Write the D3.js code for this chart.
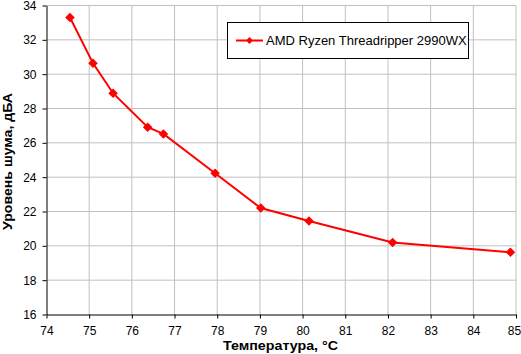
<html>
<head>
<script src="https://d3js.org/d3.v7.min.js"></script>
<style>
  body { margin: 0; background: #fff; }
  text { font-family: "Liberation Sans", Arial, sans-serif; }
</style>
</head>
<body>
<div id="chart"></div>
<script>
var temps = [74.55, 75.09, 75.56, 76.37, 76.74, 77.95, 79.02, 80.15, 82.11, 84.87];
var noise = [33.3, 30.63, 28.89, 26.91, 26.52, 24.23, 22.2, 21.45, 20.19, 19.63];
var xTicks = [74, 75, 76, 77, 78, 79, 80, 81, 82, 83, 84, 85];
var yTicks = [16, 18, 20, 22, 24, 26, 28, 30, 32, 34];
var seriesName = "AMD Ryzen Threadripper 2990WX";

var width = 521, height = 354;
var margin = {top: 5.5, right: 5, bottom: 39.5, left: 46.5};

var svg = d3.select('#chart').append('svg')
    .attr('width', width)
    .attr('height', height);

var x = d3.scaleLinear().domain([74, 85]).range([margin.left, width - margin.right]);
var y = d3.scaleLinear().domain([16, 34]).range([height - margin.bottom, margin.top]);

// grid
svg.append('g').selectAll('line.v')
    .data(xTicks.slice(1))
    .enter().append('line')
    .attr('x1', d => x(d)).attr('x2', d => x(d))
    .attr('y1', y(16)).attr('y2', y(34))
    .attr('stroke', '#c0c0c0').attr('stroke-width', 1);
svg.append('g').selectAll('line.h')
    .data(yTicks.slice(1))
    .enter().append('line')
    .attr('x1', x(74)).attr('x2', x(85))
    .attr('y1', d => y(d)).attr('y2', d => y(d))
    .attr('stroke', '#c0c0c0').attr('stroke-width', 1);

var xAxis = svg.append('g')
    .attr('transform', `translate(0,${y(16)})`)
    .call(d3.axisBottom(x).tickValues(xTicks).tickSize(4).tickPadding(8).tickSizeOuter(0));
var yAxis = svg.append('g')
    .attr('transform', `translate(${x(74)},0)`)
    .call(d3.axisLeft(y).tickValues(yTicks).tickSize(4).tickPadding(6).tickSizeOuter(0));

[xAxis, yAxis].forEach(function(g) {
    g.selectAll('text').attr('font-size', 12).attr('fill', '#000')
        .attr('font-family', '"Liberation Sans", Arial, sans-serif');
    g.selectAll('line').attr('stroke', '#000');
    g.select('.domain').attr('stroke', '#000');
});
// keep the last label inside the window
xAxis.selectAll('.tick:last-of-type text').attr('dx', -2);

// axis titles
svg.append('text')
    .attr('x', 280.5).attr('y', 350)
    .attr('text-anchor', 'middle')
    .attr('font-size', 13).attr('font-weight', 'bold')
    .attr('textLength', 115).attr('lengthAdjust', 'spacingAndGlyphs')
    .text('Температура, °С');
svg.append('text')
    .attr('transform', 'translate(12,161.5) rotate(-90)')
    .attr('text-anchor', 'middle')
    .attr('font-size', 13).attr('font-weight', 'bold')
    .attr('textLength', 137).attr('lengthAdjust', 'spacingAndGlyphs')
    .text('Уровень шума, дБА');

// series
var pts = temps.map((t, i) => [t, noise[i]]);
svg.append('path')
    .datum(pts)
    .attr('fill', 'none')
    .attr('stroke', '#ff0000')
    .attr('stroke-width', 2)
    .attr('d', d3.line().x(d => x(d[0])).y(d => y(d[1])));

var diamond = d3.symbol().type(d3.symbolDiamond2).size(58);
svg.append('g').selectAll('path')
    .data(pts)
    .enter().append('path')
    .attr('transform', d => `translate(${x(d[0])},${y(d[1])})`)
    .attr('d', diamond)
    .attr('fill', '#ff0000');

// legend
var lg = svg.append('g');
lg.append('rect')
    .attr('x', 227.5).attr('y', 22.5)
    .attr('width', 241).attr('height', 36)
    .attr('fill', '#fff').attr('stroke', '#000');
lg.append('line')
    .attr('x1', 236).attr('x2', 263)
    .attr('y1', 40.5).attr('y2', 40.5)
    .attr('stroke', '#ff0000').attr('stroke-width', 2);
lg.append('path')
    .attr('transform', 'translate(249.5,40.5)')
    .attr('d', d3.symbol().type(d3.symbolDiamond2).size(30))
    .attr('fill', '#ff0000');
lg.append('text')
    .attr('x', 266).attr('y', 45)
    .attr('font-size', 13)
    .text(seriesName);
</script>
</body>
</html>
